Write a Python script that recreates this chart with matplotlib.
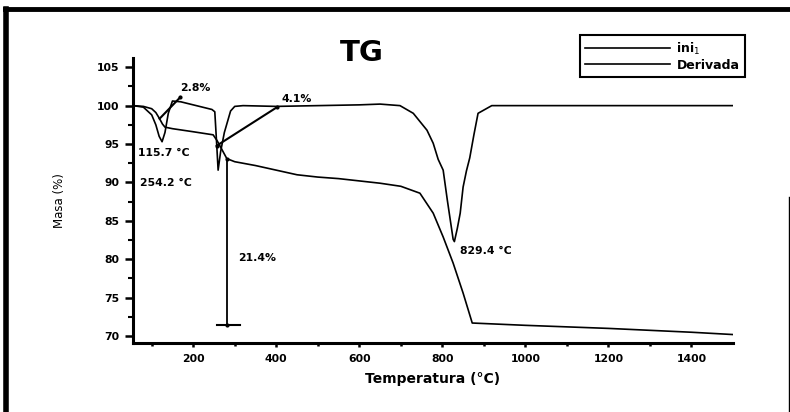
# %%
import numpy as np
import matplotlib.pyplot as plt
from matplotlib.lines import Line2D

# %%
# Data
temp_tg = [55, 80, 100, 110, 119, 126, 132, 150, 200, 248, 258, 270, 281, 300,
           350, 400, 450, 500, 550, 600, 650, 700, 746, 778, 802, 826, 850, 872,
           1000, 1200, 1400, 1500]
masa_tg = [100.0, 99.9, 99.6, 99.1, 98.3, 97.6, 97.2, 97.0, 96.6, 96.2, 95.4,
           94.2, 93.1, 92.7, 92.2, 91.6, 91.0, 90.7, 90.5, 90.2, 89.9, 89.5,
           88.6, 86.0, 82.9, 79.5, 75.6, 71.7, 71.4, 71.0, 70.5, 70.2]

temp_der = [55, 80, 100, 110, 118, 125, 132, 140, 150, 170, 200, 245, 252, 256,
            260, 266, 275, 290, 300, 320, 400, 500, 600, 650, 698, 730, 763,
            778, 790, 802, 812, 826, 829, 836, 843, 850, 858, 866, 876, 886,
            919, 1000, 1200, 1500]
masa_der = [100.0, 99.8, 98.8, 97.5, 96.0, 95.3, 96.5, 99.0, 100.6, 100.5,
            100.1, 99.5, 99.2, 95.5, 91.6, 94.0, 96.5, 99.3, 99.9, 100.0, 99.9,
            100.0, 100.1, 100.2, 100.0, 99.0, 96.8, 95.1, 93.0, 91.6, 87.7,
            82.6, 82.3, 84.0, 86.0, 89.4, 91.5, 93.2, 96.2, 99.0, 100.0, 100.0,
            100.0, 100.0]

# tangent construction lines (start, end)
tang_28 = ([119, 169], [98.3, 101.1])
tang_41 = ([257, 402], [94.8, 99.8])
step_x = 281
step_y = [93.1, 71.5]
cap_x = [257, 312]

labels = ["2.8%", "4.1%", "115.7 °C", "254.2 °C", "21.4%", "829.4 °C"]
label_pos = [(168, 102.3), (412, 100.8), (67, 93.8), (72, 89.9), (308, 80.1),
             (843, 81.1)]

# %%
W, H = 790, 412
fig = plt.figure(figsize=(W / 100, H / 100), dpi=100)
ax = fig.add_axes([133 / W, 1 - 343 / H, 600 / W, 285 / H])

bold = dict(family="DejaVu Sans", fontweight="bold")

ax.plot(temp_tg, masa_tg, c="k", lw=1.2)
ax.plot(temp_der, masa_der, c="k", lw=1.2)

# Tangent lines and step
ax.plot(*tang_28, c="k", lw=1.5, marker="o", ms=2, markevery=[1])
ax.plot(*tang_41, c="k", lw=1.5, marker="o", ms=2)
ax.plot([step_x, step_x], step_y, c="k", lw=1.3, marker="o", ms=2)
ax.plot(cap_x, [step_y[1], step_y[1]], c="k", lw=1.5)

for txt, (tx, ty) in zip(labels, label_pos):
    ax.text(tx, ty, txt, ha="left", va="center", fontsize=7.8, **bold)

ax.set_xlim(55, 1500)
ax.set_ylim(69.1, 106.2)
ax.set_xticks([200, 400, 600, 800, 1000, 1200, 1400])
ax.set_xticks(np.arange(100, 1500, 200), minor=True)
ax.set_yticks([70, 75, 80, 85, 90, 95, 100, 105])
ax.set_yticks(np.arange(72.5, 106, 5), minor=True)

for side in ["top", "right"]:
    ax.spines[side].set_visible(False)
for side in ["left", "bottom"]:
    ax.spines[side].set_linewidth(2.2)

ax.tick_params(axis="y", which="major", direction="out", length=6, width=1.8, pad=4)
ax.tick_params(axis="y", which="minor", direction="out", length=3.5, width=1.5)
ax.tick_params(axis="x", which="major", direction="out", length=3, width=1.8, pad=5)
ax.tick_params(axis="x", which="minor", direction="out", length=2, width=1.8)
for lab in ax.get_xticklabels() + ax.get_yticklabels():
    lab.set_fontsize(7.8)
    lab.set_fontweight("bold")
    lab.set_family("DejaVu Sans")

ax.set_xlabel("Temperatura (°C)", fontsize=10, labelpad=6, **bold)
ax.set_ylabel("Masa (%)", fontsize=8.5, family="DejaVu Sans", labelpad=22)

# Title
fig.text(362 / W, 1 - 53 / H, "TG", ha="center", va="center", fontsize=21, **bold)

# Legend
handles = [Line2D([], [], c="k", lw=1.2), Line2D([], [], c="k", lw=1.2)]
leg = fig.legend(handles, ["ini$_1$", "Derivada"], loc="upper right",
                 bbox_to_anchor=(745 / W, 1 - 35 / H), fancybox=False,
                 edgecolor="k", framealpha=1, handlelength=6.8,
                 handletextpad=0.5, borderpad=0.45, labelspacing=0.15,
                 borderaxespad=0,
                 prop=dict(family="DejaVu Sans", weight="bold", size=9))
leg.get_frame().set_linewidth(1.5)

# Outer frame of the scanned figure
fig.add_artist(Line2D([5 / W, 1], [1 - 9 / H] * 2, c="k", lw=3.5))
fig.add_artist(Line2D([6 / W] * 2, [0, 1 - 9 / H], c="k", lw=4))
fig.add_artist(Line2D([788.5 / W] * 2, [0, 1 - 197 / H], c="k", lw=1))

fig.savefig("out.png", dpi=100)
